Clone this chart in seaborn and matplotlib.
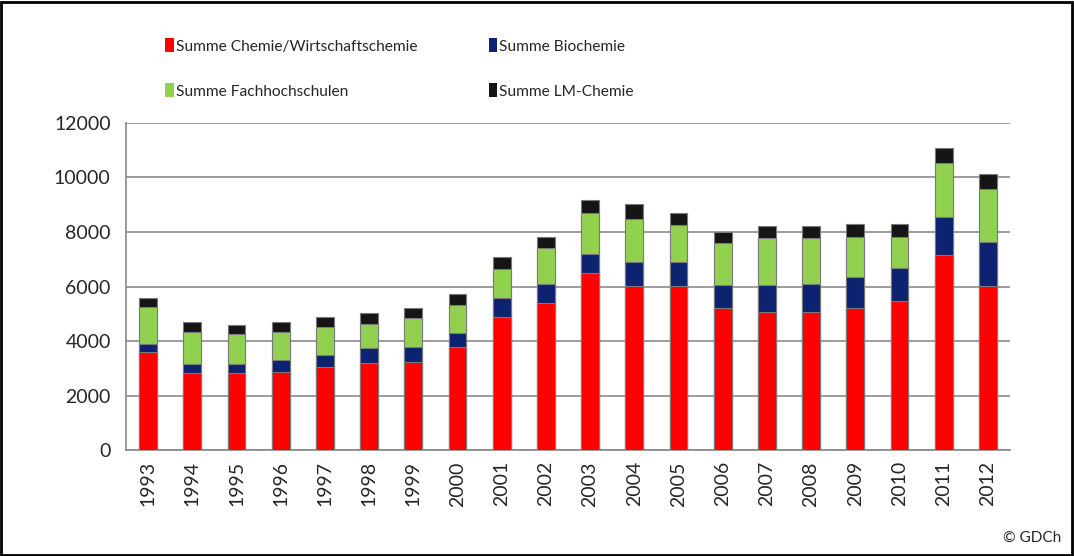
import matplotlib
matplotlib.use("Agg")
import matplotlib.pyplot as plt
import numpy as np
import pandas as pd
import seaborn as sns
from matplotlib.patches import Patch, Rectangle

years = [str(y) for y in range(1993, 2013)]
chemie = [3600, 2840, 2830, 2850, 3030, 3180, 3240, 3770, 4870, 5380,
          6480, 6020, 6020, 5220, 5050, 5050, 5200, 5480, 7160, 6030]
biochemie = [290, 320, 330, 450, 460, 550, 530, 540, 710, 720,
             710, 890, 870, 850, 1010, 1040, 1160, 1210, 1400, 1620]
fachhochschulen = [1350, 1180, 1080, 1040, 1040, 890, 1060, 1010, 1070, 1300,
                   1500, 1580, 1370, 1510, 1710, 1680, 1440, 1140, 1960, 1930]
lm_chemie = [330, 350, 350, 370, 350, 400, 370, 400, 420, 420,
             470, 540, 430, 430, 450, 460, 480, 460, 560, 540]

series_names = ["Summe Chemie/Wirtschaftschemie", "Summe Biochemie",
                "Summe Fachhochschulen", "Summe LM-Chemie"]
colors = ["#FF0000", "#0D2270", "#92D050", "#151515"]

df = pd.DataFrame({"Jahr": years, "c": chemie, "b": biochemie,
                   "f": fachhochschulen, "l": lm_chemie})
cum = df[["c", "b", "f", "l"]].cumsum(axis=1)

sns.set_style("white")
plt.rcParams["font.family"] = ["Lato", "DejaVu Sans"]

fig = plt.figure(figsize=(10.74, 5.56), dpi=100)
ax = fig.add_axes([0.1173, 0.1906, 0.8231, 0.5882])

# stacked bars: draw cumulative totals from tallest to shortest
for col, color in zip(["l", "f", "b", "c"], colors[::-1]):
    sns.barplot(x=df["Jahr"], y=cum[col], color=color, width=0.4,
                edgecolor="#7a7a7a", linewidth=0.8, saturation=1, ax=ax,
                zorder=3)

ax.set_ylim(0, 12000)
ax.set_xlim(-0.5, 19.5)
ax.set_yticks(np.arange(0, 12001, 2000))
ax.set_yticklabels([str(v) for v in range(0, 12001, 2000)], fontsize=14)
ax.set_xticks(range(len(years)))
ax.set_xticklabels(years, rotation=90, fontsize=14)
ax.set_xticks(np.arange(-0.5, 20, 1), minor=True)
ax.tick_params(axis="x", which="major", length=0, pad=8)
ax.tick_params(axis="x", which="minor", length=6, color="#888888", width=1)
ax.tick_params(axis="y", length=5, color="#888888", width=1, pad=6)
ax.set_xlabel("")
ax.set_ylabel("")
ax.yaxis.grid(True, color="#8c8c8c", linewidth=1.2, zorder=0)
ax.set_axisbelow(True)
for side in ["top", "right"]:
    ax.spines[side].set_visible(False)
for side in ["left", "bottom"]:
    ax.spines[side].set_color("#888888")
    ax.spines[side].set_linewidth(1.2)

handles = [Patch(facecolor=c, edgecolor="none") for c in colors]
order = [0, 2, 1, 3]
fig.legend([handles[i] for i in order], [series_names[i] for i in order],
           ncol=2, loc="upper left", bbox_to_anchor=(0.141, 0.956),
           frameon=False, handlelength=0.55, handleheight=1.0,
           handletextpad=0.15, columnspacing=4.55, labelspacing=1.9,
           fontsize=11.2)

fig.text(0.988, 0.02, "© GDCh", ha="right", va="bottom", fontsize=11)

fig.patches.append(Rectangle((0.001, 0.002), 0.997, 0.995,
                             transform=fig.transFigure, fill=False,
                             edgecolor="black", linewidth=2))

fig.savefig("out.png", dpi=100)
